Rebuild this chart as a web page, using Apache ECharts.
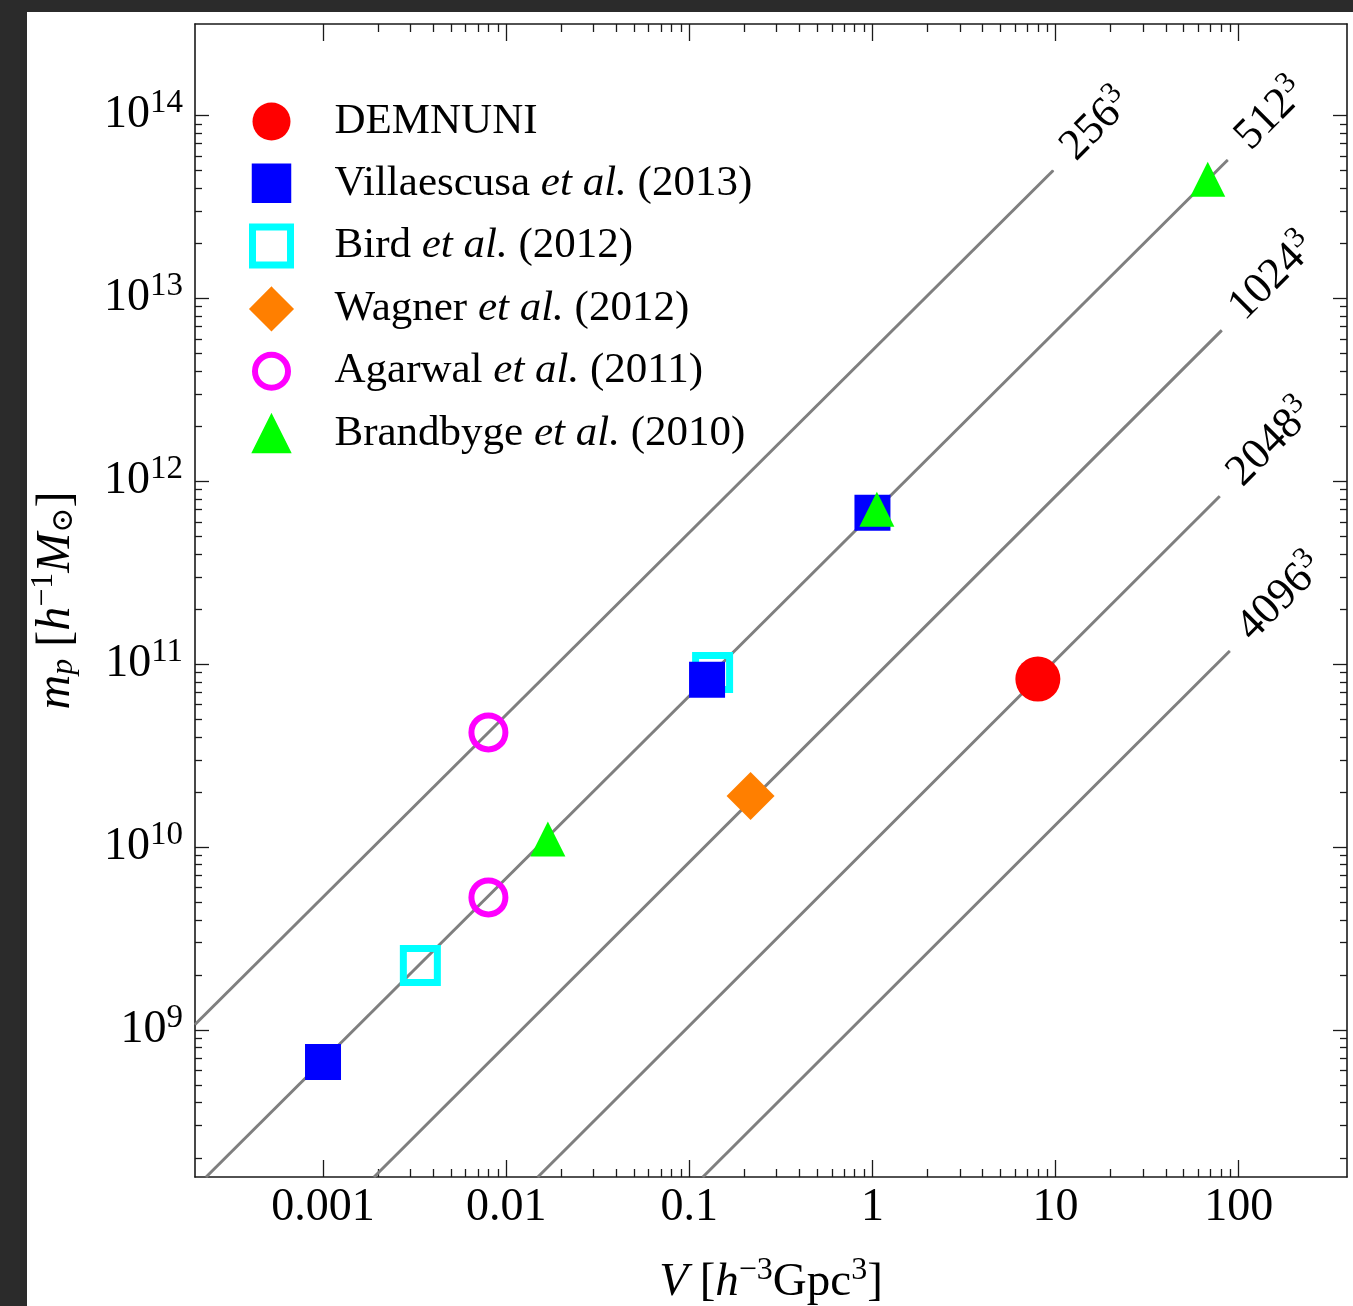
<!DOCTYPE html>
<html>
<head>
<meta charset="utf-8">
<script src="https://cdn.jsdelivr.net/npm/echarts@6/dist/echarts.min.js"></script>
<style>
  html, body { margin: 0; padding: 0; background: #2b2b2b; }
  #main { position: absolute; left: 27px; top: 12px; width: 1326px; height: 1294px; background: #fff; }
</style>
</head>
<body>
<div id="main"></div>
<script>
// points: [V (h^-3 Gpc^3), m_p (h^-1 Msun)]
const demnuni = [[8.0, 8.28e10]];
const villaescusa = [[0.001, 6.68e8], [0.125, 8.22e10], [1.0, 6.73e11]];
const bird = [[0.0034, 2.25e9], [0.134, 8.99e10]];
const wagner = [[0.216, 1.9e10]];
const agarwal = [[0.008, 4.23e10], [0.008, 5.3e9]];
const brandbyge = [[0.0169, 1.107e10], [1.057, 7.03e11], [67.7, 4.47e13]];

// constant particle-number lines (start, end) and their labels
const lineNames = ['256', '512', '1024', '2048', '4096'];
const lineStart = [[2.0e-4, 1.07e9], [2.3e-4, 1.57e8], [1.9e-3, 1.57e8], [0.0149, 1.57e8], [0.1186, 1.57e8]];
const lineEnd = [[9.7, 5.0e13], [87, 5.7e13], [80.7, 6.68e12], [78.7, 8.28e11], [89.3, 1.18e11]];

// axes
const xRange = [2.0e-4, 390];
const yRange = [1.57e8, 3.16e14];
const xMajor = [0.001, 0.01, 0.1, 1, 10, 100];
const yMajor = [1e8, 1e9, 1e10, 1e11, 1e12, 1e13];
const minorSteps = [2, 3, 4, 5, 6, 7, 8, 9];
const xMinor = [];
xMajor.slice(0, 5).forEach(d => minorSteps.forEach(k => xMinor.push(+(d * k).toPrecision(3))));
const yMinor = [];
yMajor.forEach(d => minorSteps.forEach(k => yMinor.push(d * k)));
const yLabels = yMajor.slice(1).concat([1e14]);

const serif = "'Liberation Serif', 'Times New Roman', 'DejaVu Serif', serif";
const ink = '#1a1a1a';

// superscript / subscript styles: raised or lowered with padding
function sup(size, raise) {
  return { fontFamily: serif, fontSize: size, lineHeight: size, padding: [0, 0, raise, 0], color: '#000' };
}
function sub(size, drop, italic) {
  return { fontFamily: serif, fontSize: size, lineHeight: size, padding: [drop, 0, 0, 0],
    fontStyle: italic ? 'italic' : 'normal', color: '#000' };
}

const chart = echarts.init(document.getElementById('main'));

function xAx(pos, major) {
  return {
    type: 'log', min: xRange[0], max: xRange[1], position: pos,
    axisLine: { show: major, onZero: false, lineStyle: { color: ink, width: 1.6 } },
    axisTick: { show: true, inside: true, length: major ? 17 : 8,
      customValues: major ? xMajor : xMinor, lineStyle: { color: ink, width: 1.3 } },
    axisLabel: { show: false },
    splitLine: { show: false }, minorTick: { show: false }
  };
}
function yAx(pos, major) {
  return {
    type: 'log', min: yRange[0], max: yRange[1], position: pos,
    axisLine: { show: major, onZero: false, lineStyle: { color: ink, width: 1.6 } },
    axisTick: { show: true, inside: true, length: major ? 14 : 7,
      customValues: major ? yLabels : yMinor, lineStyle: { color: ink, width: 1.3 } },
    axisLabel: { show: false },
    splitLine: { show: false }, minorTick: { show: false }
  };
}

const xAxes = [xAx('bottom', true), xAx('bottom', false), xAx('top', true), xAx('top', false)];
xAxes[0].axisLabel = {
  show: true, customValues: xMajor, margin: 8,
  formatter: v => String(v),
  fontFamily: serif, fontSize: 46, lineHeight: 46, color: '#000'
};
xAxes[0].name = '{i|V} [{i|h}{s|−3}Gpc{s|3}]';
xAxes[0].nameLocation = 'middle';
xAxes[0].nameGap = 81;
xAxes[0].nameTextStyle = {
  fontFamily: serif, fontSize: 47, lineHeight: 50, color: '#000',
  rich: {
    i: { fontFamily: serif, fontSize: 47, lineHeight: 50, fontStyle: 'italic', color: '#000' },
    s: sup(32, 24)
  }
};

const yAxes = [yAx('left', true), yAx('left', false), yAx('right', true), yAx('right', false)];
yAxes[0].axisLabel = {
  show: true, customValues: yLabels, margin: 12,
  formatter: v => '{b|10}{s|' + Math.round(Math.log10(v)) + '}',
  rich: {
    b: { fontFamily: serif, fontSize: 46, lineHeight: 46, color: '#000' },
    s: sup(33, 24)
  }
};
yAxes[0].name = '{i|m}{u|p} [{i|h}{s|−1}{i|M}{o|⊙}]';
yAxes[0].nameLocation = 'middle';
yAxes[0].nameGap = 114;
yAxes[0].nameTextStyle = {
  fontFamily: serif, fontSize: 48, lineHeight: 50, color: '#000',
  rich: {
    i: { fontFamily: serif, fontSize: 48, lineHeight: 50, fontStyle: 'italic', color: '#000' },
    s: sup(32, 24),
    u: sub(32, 16, true),
    o: sub(30, 16, false)
  }
};

const lineSeries = lineNames.map((n, i) => ({
  type: 'line', silent: true, z: 1,
  symbol: 'circle', symbolSize: 1, showSymbol: true,
  lineStyle: { color: '#7f7f7f', width: 3 },
  itemStyle: { color: '#7f7f7f' },
  data: [
    lineStart[i],
    {
      value: lineEnd[i],
      label: {
        show: true, position: 'right', distance: 0, rotate: 45, offset: [22, -2],
        formatter: '{n|' + n + '}{s|3}',
        rich: {
          n: { fontFamily: serif, fontSize: 44, lineHeight: 44, color: '#000' },
          s: sup(30, 22)
        }
      }
    }
  ]
}));

const hollow = 'rgba(255,255,255,0)';
const scatterSeries = [
  { name: 'DEMNUNI', data: demnuni, symbol: 'circle', symbolSize: 45, z: 5,
    itemStyle: { color: '#ff0000', opacity: 1 } },
  { name: 'Villaescusa et al. (2013)', data: villaescusa, symbol: 'rect', symbolSize: 36, z: 6,
    itemStyle: { color: '#0000ff', opacity: 1 } },
  { name: 'Bird et al. (2012)', data: bird, symbol: 'rect', symbolSize: 34, z: 5,
    itemStyle: { color: hollow, borderColor: '#00ffff', borderWidth: 7, opacity: 1 } },
  { name: 'Wagner et al. (2012)', data: wagner, symbol: 'diamond', symbolSize: 48, z: 5,
    itemStyle: { color: '#ff7f00', opacity: 1 } },
  { name: 'Agarwal et al. (2011)', data: agarwal, symbol: 'circle', symbolSize: 34, z: 5,
    itemStyle: { color: hollow, borderColor: '#ff00ff', borderWidth: 6, opacity: 1 } },
  { name: 'Brandbyge et al. (2010)', data: brandbyge, symbol: 'triangle', symbolSize: 35, z: 7,
    itemStyle: { color: '#00ff00', opacity: 1 } }
].map(s => Object.assign({ type: 'scatter', silent: true }, s));

// legend ring drawn a little smaller inside the 38px icon box
const ringIcon = 'path://M0 0M38 38M35.5 19A16.5 16.5 0 1 1 2.5 19A16.5 16.5 0 1 1 35.5 19Z';

chart.setOption({
  animation: false,
  backgroundColor: '#fff',
  grid: { left: 168, top: 12, right: 6, bottom: 129, containLabel: false, outerBoundsMode: 'none' },
  xAxis: xAxes,
  yAxis: yAxes,
  legend: {
    orient: 'vertical', left: 222, top: 88, padding: 0,
    itemWidth: 38, itemHeight: 38, itemGap: 18.8,
    selectedMode: false,
    textStyle: {
      fontFamily: serif, fontSize: 43, lineHeight: 40, color: '#000', padding: [0, 0, 0, 39],
      rich: { i: { fontFamily: serif, fontSize: 43, lineHeight: 40, fontStyle: 'italic', color: '#000' } }
    },
    formatter: name => name.replace('et al.', '{i|et al.}'),
    data: [
      { name: 'DEMNUNI', icon: 'circle' },
      { name: 'Villaescusa et al. (2013)', icon: 'rect',
        itemStyle: { borderColor: '#0000ff', borderWidth: 1.5 } },
      { name: 'Bird et al. (2012)', icon: 'rect',
        itemStyle: { color: '#fff', borderColor: '#00ffff', borderWidth: 7 } },
      { name: 'Wagner et al. (2012)', icon: 'diamond',
        itemStyle: { borderColor: '#ff7f00', borderWidth: 5 } },
      { name: 'Agarwal et al. (2011)', icon: ringIcon,
        itemStyle: { color: '#fff', borderColor: '#ff00ff', borderWidth: 6 } },
      { name: 'Brandbyge et al. (2010)', icon: 'triangle',
        itemStyle: { borderColor: '#00ff00', borderWidth: 1.5 } }
    ]
  },
  series: lineSeries.concat(scatterSeries)
});
</script>
</body>
</html>
